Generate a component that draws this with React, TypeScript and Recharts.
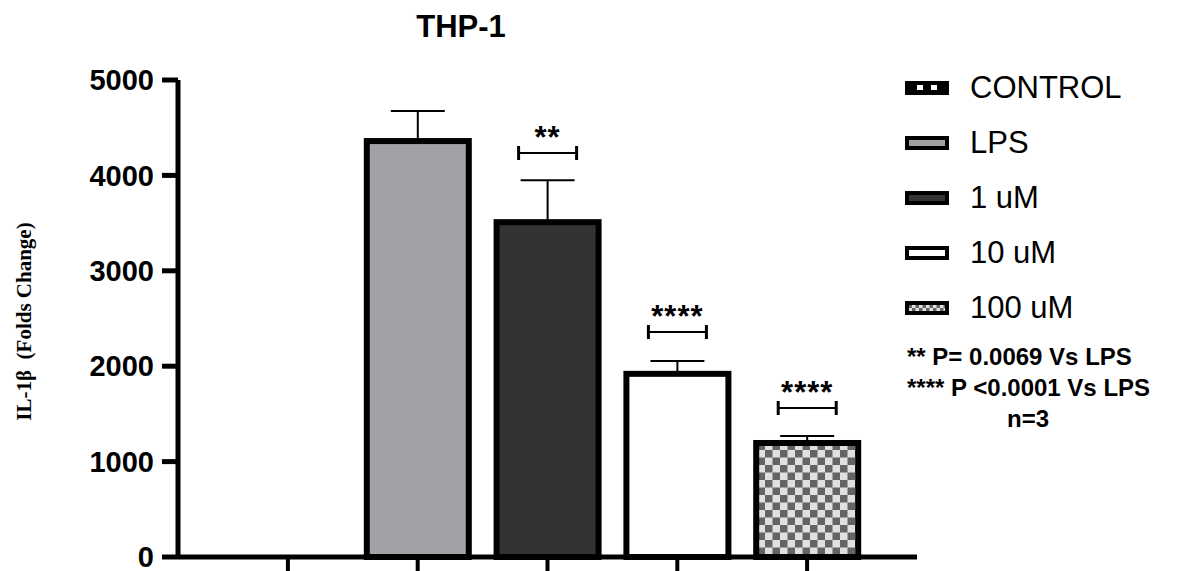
import React from 'react';
import { BarChart, Bar, XAxis, YAxis, Cell, ErrorBar, Legend } from 'recharts';

const categories = ['CONTROL', 'LPS', '1 uM', '10 uM', '100 uM'];
const means = [0, 4360, 3510, 1920, 1195];
const sem = [0, 315, 440, 135, 73];
const sigLevel: (number | null)[] = [null, null, 4235, 2358, 1562];
const sigStars = ['', '', '**', '****', '****'];
const yTicks = [0, 1000, 2000, 3000, 4000, 5000];
const fills = ['url(#ctrl)', '#a2a1a6', '#333333', '#ffffff', 'url(#checker)'];
const iconFills = ['url(#ctrlIcon)', '#a2a1a6', '#333333', '#ffffff', 'url(#checkerIcon)'];
const notes = ['** P= 0.0069 Vs LPS', '**** P <0.0001 Vs LPS', 'n=3'];

const data = categories.map((name, i) => ({ name, value: means[i], err: [0, sem[i]] }));

const SANS = '"Liberation Sans", Arial, sans-serif';

// bar + significance bracket, bracket height taken from the bar's own scale
const BarWithSig = (props: any) => {
  const { x, y, width, height, fill, index } = props;
  if (!height) return null;
  const base = y + height;
  const ppu = height / means[index];
  const s = sigLevel[index];
  const cx = x + width / 2;
  return (
    <g>
      <rect x={x} y={y} width={width} height={height} fill={fill} stroke="#000" strokeWidth={6} />
      {s != null && (
        <g>
          <line x1={cx - 29} x2={cx + 29} y1={base - s * ppu} y2={base - s * ppu} stroke="#000" strokeWidth={2} />
          <line x1={cx - 29} x2={cx - 29} y1={base - s * ppu - 7} y2={base - s * ppu + 7} stroke="#000" strokeWidth={3} />
          <line x1={cx + 29} x2={cx + 29} y1={base - s * ppu - 7} y2={base - s * ppu + 7} stroke="#000" strokeWidth={3} />
          <text x={cx} y={base - s * ppu - 5} textAnchor="middle" fontFamily={SANS} fontWeight="bold" fontSize={31} letterSpacing={1}>
            {sigStars[index]}
          </text>
        </g>
      )}
    </g>
  );
};

const LegendBox = () => (
  <div style={{ fontFamily: SANS, whiteSpace: 'nowrap' }}>
    {categories.map((c, i) => (
      <div key={c} style={{ display: 'flex', alignItems: 'center', height: 55 }}>
        <svg width={44} height={14} style={{ marginLeft: 2, marginRight: 21 }}>
          <rect x={2} y={2} width={40} height={10} fill={iconFills[i]} stroke="#000" strokeWidth={4} />
        </svg>
        <span style={{ fontSize: 31, lineHeight: 1 }}>{c}</span>
      </div>
    ))}
    <div style={{ marginTop: 6, marginLeft: 4, fontWeight: 'bold', fontSize: 24, lineHeight: '31px' }}>
      {notes.map((n, i) => (
        <div key={n} style={{ paddingLeft: i === notes.length - 1 ? 100 : 0 }}>{n}</div>
      ))}
    </div>
  </div>
);

const YLabel = (props: any) => {
  const vb = props.viewBox || {};
  const cx = (vb.x || 0) + 24;
  const cy = (vb.y || 0) + (vb.height || 0) / 2 + 3;
  return (
    <text
      x={cx}
      y={cy}
      transform={`rotate(-90 ${cx} ${cy})`}
      textAnchor="middle"
      dominantBaseline="central"
      fontFamily='"Liberation Serif", "Times New Roman", serif'
      fontWeight="bold"
      fontSize={21}
    >
      {'IL-1β\u00a0\u00a0(Folds Change)'}
    </text>
  );
};

export default function App() {
  return (
    <div style={{ position: 'absolute', left: 0, top: 0, width: 1180, height: 571, background: '#fff' }}>
      <BarChart width={1180} height={571} data={data} margin={{ top: 80, right: 0, bottom: 0, left: 0 }}>
        <defs>
          <pattern id="checker" width={15} height={15} patternUnits="userSpaceOnUse">
            <rect width={15} height={15} fill="#e0e0e0" />
            <rect width={7.5} height={7.5} fill="#646464" />
            <rect x={7.5} y={7.5} width={7.5} height={7.5} fill="#646464" />
          </pattern>
          <pattern id="checkerIcon" width={7} height={7} patternUnits="userSpaceOnUse">
            <rect width={7} height={7} fill="#e0e0e0" />
            <rect width={3.5} height={3.5} fill="#646464" />
            <rect x={3.5} y={3.5} width={3.5} height={3.5} fill="#646464" />
          </pattern>
          <pattern id="ctrl" width={26} height={14} patternUnits="userSpaceOnUse">
            <rect width={26} height={14} fill="#000" />
            <rect x={6} y={4} width={6} height={6} fill="#fff" />
          </pattern>
          <pattern id="ctrlIcon" x={8} y={0} width={14} height={14} patternUnits="userSpaceOnUse">
            <rect width={14} height={14} fill="#000" />
            <rect x={4} y={4} width={6} height={5} fill="#fff" />
          </pattern>
        </defs>
        <text x={461} y={37} textAnchor="middle" fontFamily={SANS} fontWeight="bold" fontSize={31}>
          THP-1
        </text>
        <XAxis
          dataKey="name"
          height={14}
          padding={{ left: 45, right: 45 }}
          tickFormatter={() => ''}
          tickSize={14}
          axisLine={{ stroke: '#000', strokeWidth: 5 }}
          tickLine={{ stroke: '#000', strokeWidth: 4 }}
        />
        <YAxis
          width={178}
          domain={[0, 5000]}
          ticks={yTicks}
          tickSize={16}
          tickMargin={8}
          interval={0}
          axisLine={{ stroke: '#000', strokeWidth: 5 }}
          tickLine={{ stroke: '#000', strokeWidth: 5 }}
          tick={{ fill: '#000', fontFamily: SANS, fontWeight: 'bold', fontSize: 29 }}
          label={<YLabel />}
        />
        <Legend
          layout="vertical"
          align="right"
          verticalAlign="top"
          content={() => <LegendBox />}
          wrapperStyle={{ left: 903, top: 60, width: 263 }}
        />
        <Bar dataKey="value" barSize={102} shape={<BarWithSig />} isAnimationActive={false}>
          {data.map((d, i) => (
            <Cell key={d.name} fill={fills[i]} />
          ))}
          <ErrorBar dataKey="err" width={27} stroke="#000" strokeWidth={2} isAnimationActive={false} />
        </Bar>
      </BarChart>
    </div>
  );
}
